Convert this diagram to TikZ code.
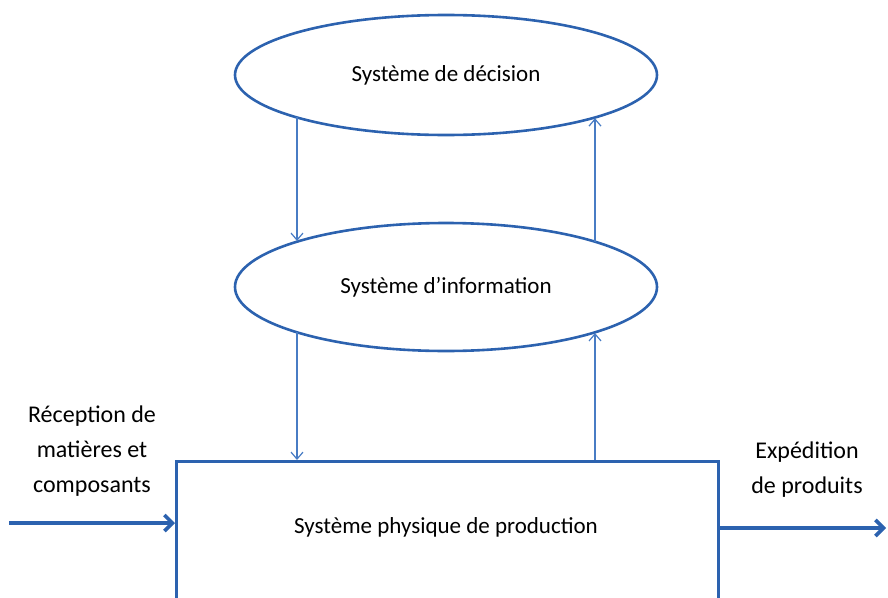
\documentclass[tikz,border=0pt]{standalone}
\usepackage{fontspec}
\setmainfont{Carlito}
\usetikzlibrary{arrows.meta,shapes.geometric}
\definecolor{lineblue}{RGB}{44,98,175}
\definecolor{thinblue}{RGB}{72,124,196}
\tikzset{
  txt/.style={font=\fontsize{23}{28}\selectfont},
  sysellipse/.style={ellipse, draw=lineblue, line width=2.6pt, minimum width=422pt, minimum height=120pt, inner sep=0pt, txt},
  sysbox/.style={draw=lineblue, line width=2.6pt, minimum width=542pt, minimum height=170pt, inner sep=0pt},
  flow/.style={thinblue, line width=1.2pt, -{Straight Barb[length=7pt,width=12pt]}},
  bigflow/.style={lineblue, line width=3.6pt, -{Straight Barb[length=8pt,width=16pt]}},
  lbl/.style={align=center, font=\fontsize{24}{35}\selectfont, inner sep=0pt},
}
\begin{document}
\begin{tikzpicture}[x=1pt,y=-1pt]
\useasboundingbox (0,0) rectangle (888,597);
\begin{scope}
\clip (0,0) rectangle (888,597);
\node[sysellipse] (dec) at (446,75) {Système de décision};
\node[sysellipse, minimum height=128pt] (info) at (446,287) {Système d’information};
\node[sysbox, anchor=north west] (prod) at (175,460) {};
\node[txt] (prodtxt) at (446,527) {Système physique de production};

% information flows between the three levels, on two vertical lanes
\coordinate (colL) at (297,0);
\coordinate (colR) at (595,0);
\draw[flow] (colL |- dec.195.9) -- (colL |- info.163.1);
\draw[flow] (colR |- info.16.9) -- (colR |- dec.344.1);
\draw[flow] (colL |- info.196.9) -- (colL |- prod.north);
\draw[flow] (colR |- prod.north) -- (colR |- info.343.1);

% physical flows in and out
\coordinate (inL) at (9,523);
\coordinate (outR) at (886,528);
\draw[bigflow] (inL) -- (inL -| prod.west);
\draw[bigflow] (outR -| prod.east) -- (outR);
\end{scope}

\node[lbl] (recep) at (92,451) {Réception de\\matières et\\composants};
\node[lbl] (exped) at (807,470) {Expédition\\de produits};
\end{tikzpicture}
\end{document}
